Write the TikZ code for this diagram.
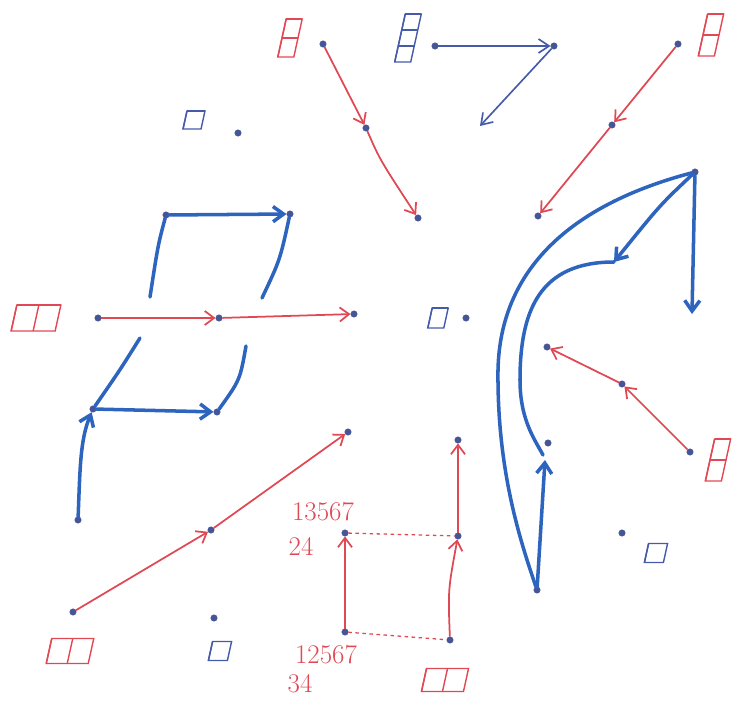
\documentclass[tikz,border=0pt]{standalone}
\usetikzlibrary{arrows.meta}
\definecolor{pred}{RGB}{224,72,84}
\definecolor{pblue}{RGB}{45,100,190}
\definecolor{tblue}{RGB}{70,90,170}
\definecolor{dotc}{RGB}{70,85,150}
\tikzset{
  dot/.style={circle,fill=dotc,draw=dotc,inner sep=0pt,minimum size=5.5pt},
  redarr/.style={pred,line width=1.5pt,-{Straight Barb[length=8pt,width=12pt]}},
  reddash/.style={pred,line width=1.1pt,dashed},
  bluearr/.style={pblue,line width=3pt,line cap=round,-{Straight Barb[length=9pt,width=13pt]}},
  blueline/.style={pblue,line width=3pt,line cap=round},
  thinblue/.style={tblue,line width=1.4pt,-{Straight Barb[length=9pt,width=12pt]}},
  lbl/.style={text=pred,font=\fontsize{23}{23}\selectfont}
}
\newcommand\ydiag[7]{%
  \begin{scope}[shift={(#1,#2)},xslant=0.22,draw=#7,line width=1.2pt]
    \pgfmathsetmacro\W{#3*#5}\pgfmathsetmacro\H{#4*#6}
    \draw (-\W/2,-\H/2) rectangle (\W/2,\H/2);
    \foreach \i in {1,...,#3} {\draw (-\W/2+\i*#5-#5,-\H/2) -- (-\W/2+\i*#5-#5,\H/2);}
    \foreach \j in {1,...,#4} {\draw (-\W/2,-\H/2+\j*#6-#6) -- (\W/2,-\H/2+\j*#6-#6);}
  \end{scope}}
\begin{document}
\begin{tikzpicture}[x=0.03cm,y=-0.03cm]
\useasboundingbox (0,0) rectangle (742,702);

% top-left red chain
\ydiag{290}{38}{1}{2}{16}{19}{pred}
\node[dot] (a1) at (323,44) {};
\node[dot] (a2) at (366,128) {};
\node[dot] (a3) at (418,218) {};
\draw[redarr] (a1) -- (a2);
\draw[redarr] (a2) .. controls (380,160) .. (a3);

% top blue chain
\ydiag{408}{38}{1}{3}{16}{16}{tblue}
\node[dot] (b1) at (435,46) {};
\node[dot] (b2) at (554,46) {};
\coordinate (b3) at (480,126);
\draw[thinblue] (b1) -- (b2);
\draw[thinblue] (b2) -- (b3);

% top-right red chain
\ydiag{711}{35}{1}{2}{16}{21}{pred}
\node[dot] (c1) at (678,44) {};
\node[dot] (c2) at (612,125) {};
\node[dot] (c3) at (538,216) {};
\draw[redarr] (c1) -- (c2);
\draw[redarr] (c2) -- (c3);

% blue square top-left
\ydiag{194}{120}{1}{1}{18}{18}{tblue}
\node[dot] (s1) at (238,133) {};

% left middle
\ydiag{36}{318}{2}{1}{22}{26}{pred}
\node[dot] (d1) at (98,318) {};
\node[dot] (d2) at (219,318) {};
\node[dot] (d3) at (354,314) {};
\draw[redarr] (d1) -- (d2);
\draw[redarr] (d2) -- (d3);

\node[dot] (e1) at (166,215) {};
\node[dot] (e2) at (290,214) {};
\coordinate (e3) at (150,297);
\coordinate (e4) at (262,298);
\draw[bluearr] (e1) -- (e2);
\draw[blueline] (e1) .. controls (158,245) .. (e3);
\draw[blueline] (e2) .. controls (280,260) .. (e4);

\coordinate (f3) at (140,338);
\coordinate (f4) at (246,346);
\node[dot] (f1) at (93,409) {};
\node[dot] (f2) at (217,412) {};
\node[dot] (f0) at (78,520) {};
\draw[blueline] (f3) .. controls (120,370) .. (f1);
\draw[blueline] (f4) .. controls (240,380) .. (f2);
\draw[bluearr] (f1) -- (f2);
\draw[bluearr] (f0) .. controls (80,470) and (80,440) .. (f1);

% middle blue shape
\ydiag{438}{318}{1}{1}{16}{20}{tblue}
\node[dot] (s2) at (466,318) {};

% red diagonal
\ydiag{70}{651}{2}{1}{21}{25}{pred}
\node[dot] (g1) at (73,612) {};
\node[dot] (g2) at (211,530) {};
\node[dot] (g3) at (348,432) {};
\draw[redarr] (g1) -- (g2);
\draw[redarr] (g2) -- (g3);

% blue square bottom
\ydiag{220}{651}{1}{1}{19}{19}{tblue}
\node[dot] (s3) at (214,618) {};

% red square
\node[dot] (h1) at (345,533) {};
\node[dot] (h2) at (345,632) {};
\node[dot] (h3) at (458,536) {};
\node[dot] (h4) at (450,640) {};
\node[dot] (h5) at (458,440) {};
\draw[reddash] (h1) -- (h3);
\draw[reddash] (h2) -- (h4);
\draw[redarr] (h2) -- (h1);
\draw[redarr] (h4) .. controls (448,590) .. (h3);
\draw[redarr] (h3) -- (h5);
\ydiag{445}{680}{2}{1}{21}{23}{pred}
\node[lbl] (t1) at (323,512) {13567};
\node[lbl] (t2) at (301,546) {24};
\node[lbl] (t3) at (326,655) {12567};
\node[lbl] (t4) at (300,684) {34};

% right blue
\node[dot] (k1) at (695,172) {};
\coordinate (k2) at (692,314);
\coordinate (k3) at (614,262);
\node[dot] (k4) at (537,590) {};
\coordinate (k5) at (545,460);
\node[dot] (k6) at (548,443) {};
\draw[bluearr] (k1) -- (k2);
\draw[bluearr] (k1) .. controls (660,205) .. (k3);
\draw[blueline] (k3) .. controls (540,262) and (520,310) .. (520,380) .. controls (520,420) and (535,440) .. (543,455);
\draw[blueline] (k1) .. controls (570,205) and (500,270) .. (498,370) .. controls (497,470) and (520,540) .. (k4);
\draw[bluearr] (k4) -- (k5);

% right red
\ydiag{718}{460}{1}{2}{16}{21}{pred}
\node[dot] (m1) at (690,452) {};
\node[dot] (m2) at (622,384) {};
\node[dot] (m3) at (547,347) {};
\draw[redarr] (m1) -- (m2);
\draw[redarr] (m2) -- (m3);

% right blue square
\ydiag{656}{553}{1}{1}{19}{19}{tblue}
\node[dot] (s4) at (622,533) {};
\end{tikzpicture}
\end{document}
